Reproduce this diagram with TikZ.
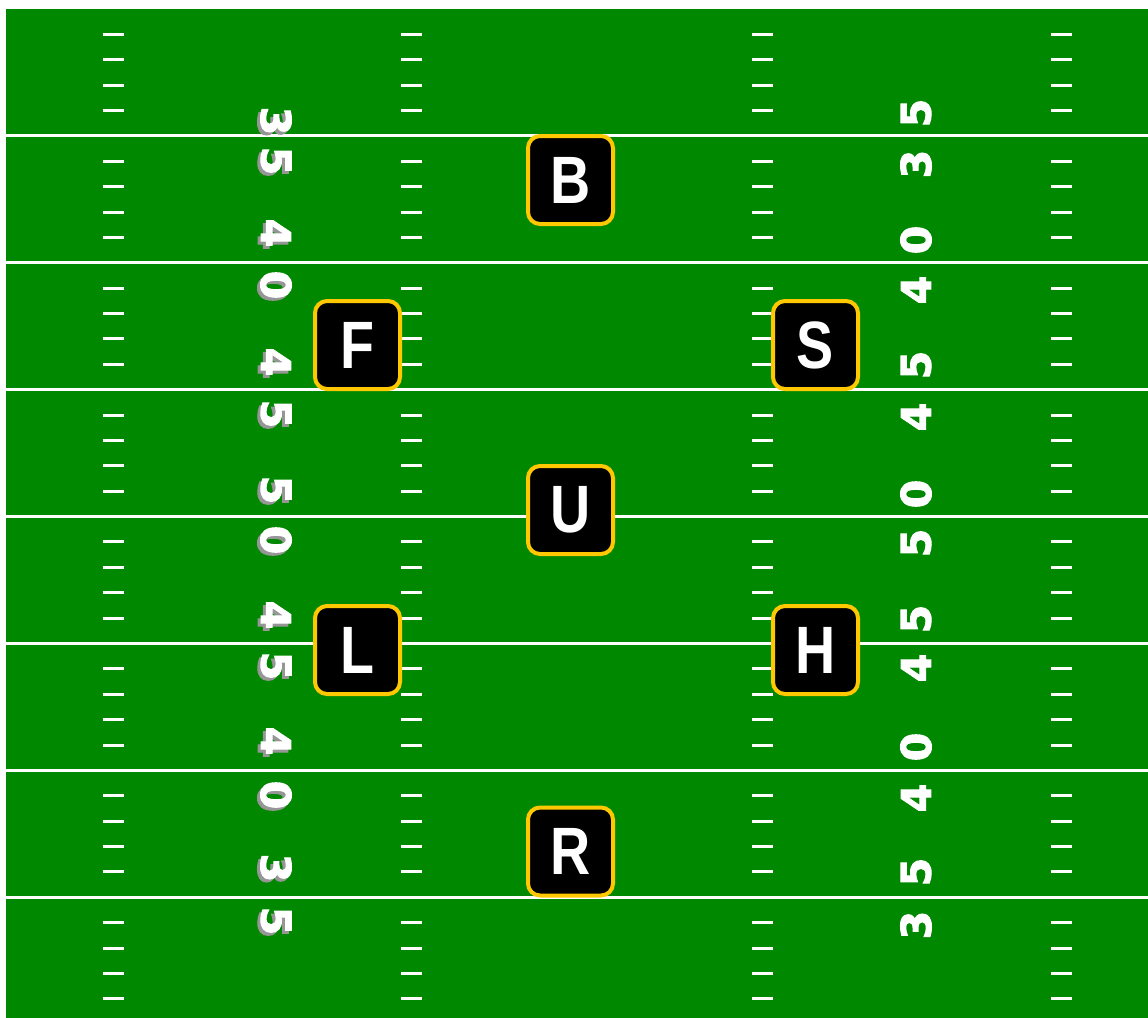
\documentclass[tikz,border=0pt]{standalone}
\usepackage{fontspec}
\usepackage{graphicx}
\setmainfont{Liberation Sans}
\newfontfamily\numfont[FakeBold=2.5]{DejaVu Sans Bold}
\definecolor{trava}{RGB}{0,136,0}
\definecolor{zlata}{RGB}{255,200,0}
\definecolor{senca}{RGB}{150,150,150}
\tikzset{
  igralec/.style={draw=zlata, line width=2pt, fill=black, rounded corners=6pt,
    minimum width=42.5pt, minimum height=44pt, inner sep=0pt, text=white,
    font=\bfseries\fontsize{33.5}{34}\selectfont},
  stevilka/.style={inner sep=0pt, text=white, font=\numfont\fontsize{20.5}{21}\selectfont}
}
\newcommand{\crka}[1]{\scalebox{0.83}[1]{#1}}
\begin{document}
\begin{tikzpicture}[x=0.5pt, y=-0.5pt]
  \useasboundingbox (0,0) rectangle (1148,1018);
  % igrisce
  \fill[white] (0,0) rectangle (1148,1018);
  \fill[trava] (6,9) rectangle (1148,1018);

  % crte
  \foreach \k in {1,...,7}
    \draw[white, line width=1.5pt] (6,{9+126.9*\k}) -- (1148,{9+126.9*\k});

  % oznake jardov
  \foreach \x in {113,411.5,762.5,1061.5}
    \foreach \j in {1,...,39}{
      \pgfmathtruncatemacro{\ost}{mod(\j,5)}
      \ifnum\ost>0
        \draw[white, line width=1.5pt] ({\x-10.5},{9+25.38*\j}) -- ({\x+10.5},{9+25.38*\j});
      \fi
    }

  % stevilke levo
  \foreach \d/\y [count=\i] in {3/121,5/161,4/233,0/285,4/362,5/414,5/490,0/540,4/615,5/666,4/741,0/795,3/868,5/921}{
    \node[stevilka, text=senca, rotate=-90] (sl\i) at (273,{\y+3}) {\d};
    \node[stevilka, rotate=-90] (nl\i) at (276,\y) {\d};
  }

  % stevilke desno
  \foreach \d/\y [count=\i] in {5/113,3/164,0/240,4/290,5/365,4/417,0/494,5/543,5/619,4/668,0/747,4/798,5/872,3/925}
    \node[stevilka, rotate=90] (nd\i) at (916,\y) {\d};

  % igralci
  \node[igralec] (B) at (570.5,180) {\crka{B}};
  \node[igralec] (F) at (357.5,345) {\crka{F}};
  \node[igralec] (S) at (815.5,345) {\crka{S}};
  \node[igralec] (U) at (570.5,510) {\crka{U}};
  \node[igralec] (L) at (357.5,650) {\crka{L}};
  \node[igralec] (H) at (815.5,650) {\crka{H}};
  \node[igralec] (R) at (570.5,851.5) {\crka{R}};

\end{tikzpicture}
\end{document}
